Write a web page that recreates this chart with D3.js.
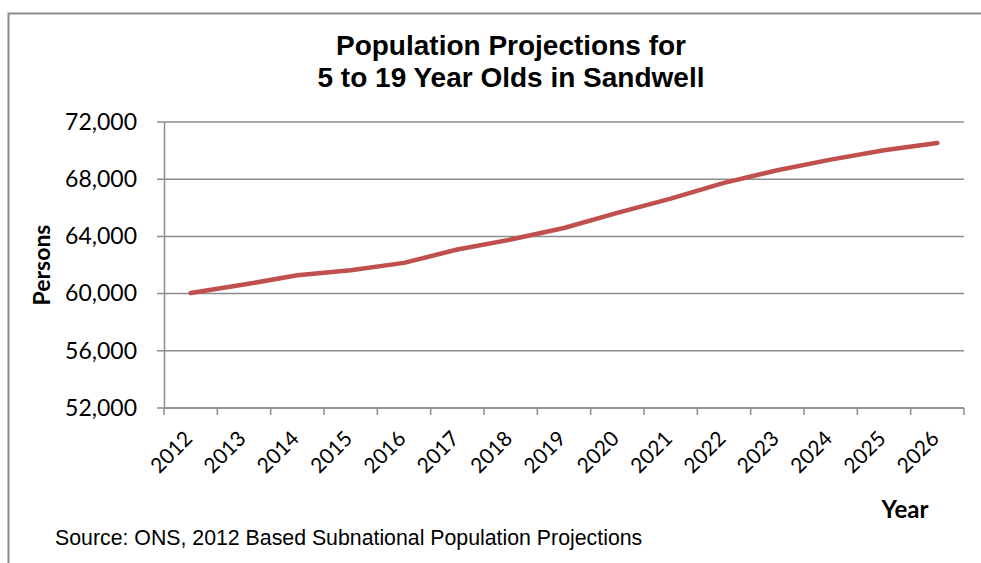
<!DOCTYPE html>
<html>
<head>
<meta charset="UTF-8">
<script src="https://d3js.org/d3.v7.min.js"></script>
<style>
  body { margin: 0; background: #fff; }
  svg { display: block; }
</style>
</head>
<body>
<svg></svg>
<script>
const width = 981;
const height = 563;
const margin = {top: 122, right: 17, bottom: 155, left: 164};

const years = ["2012","2013","2014","2015","2016","2017","2018","2019","2020","2021","2022","2023","2024","2025","2026"];
const persons = [60040, 60630, 61280, 61630, 62150, 63080, 63780, 64590, 65640, 66640, 67740, 68630, 69370, 70020, 70530];
const yTicks = [52000, 56000, 60000, 64000, 68000, 72000];
const titleLines = ["Population Projections for", "5 to 19 Year Olds in Sandwell"];

const data = years.map((y, i) => ({year: y, value: persons[i]}));

const svg = d3.select("svg")
    .attr("width", width)
    .attr("height", height)
    .attr("viewBox", [0, 0, width, height]);

// chart frame (only top/left edges visible)
svg.append("path")
    .attr("d", `M8.5,${height}V13.5H${width}`)
    .attr("fill", "none")
    .attr("stroke", "#8c8c8c")
    .attr("stroke-width", 2);

const x = d3.scaleBand()
    .domain(years)
    .range([margin.left, width - margin.right]);

const y = d3.scaleLinear()
    .domain([52000, 72000])
    .range([height - margin.bottom, margin.top]);

// gridlines
svg.append("g")
    .attr("stroke", "#8c8c8c")
    .attr("stroke-width", 1.5)
  .selectAll("line")
  .data(yTicks)
  .join("line")
    .attr("x1", margin.left - 7)
    .attr("x2", width - margin.right)
    .attr("y1", d => y(d))
    .attr("y2", d => y(d));

// y axis
svg.append("g")
    .attr("transform", `translate(${margin.left},0)`)
    .call(d3.axisLeft(y).tickValues(yTicks).tickFormat(d3.format(",")).tickSize(0).tickPadding(27))
    .call(g => g.select(".domain").attr("stroke", "#8c8c8c").attr("stroke-width", 1.5))
    .call(g => g.selectAll("text")
        .attr("font-family", "Lato, 'Open Sans', sans-serif")
        .attr("font-size", 23)
        .attr("fill", "#000"));

// x axis
svg.append("g")
    .attr("transform", `translate(0,${height - margin.bottom})`)
    .call(d3.axisBottom(x).tickSize(0))
    .call(g => g.select(".domain").remove())
    .call(g => g.selectAll("text")
        .attr("font-family", "Lato, 'Open Sans', sans-serif")
        .attr("font-size", 21)
        .attr("fill", "#000")
        .attr("text-anchor", "end")
        .attr("x", 0)
        .attr("y", 0)
        .attr("dy", 0)
        .attr("transform", "translate(3,32) rotate(-45)"));

// x axis base line and tick marks at band boundaries
const xb = svg.append("g")
    .attr("stroke", "#8c8c8c")
    .attr("stroke-width", 1.5);
xb.append("line")
    .attr("x1", margin.left)
    .attr("x2", width - margin.right)
    .attr("y1", y(52000))
    .attr("y2", y(52000));
xb.selectAll(".tk")
  .data(years.concat(["end"]))
  .join("line")
    .attr("class", "tk")
    .attr("x1", (d, i) => margin.left + i * x.step())
    .attr("x2", (d, i) => margin.left + i * x.step())
    .attr("y1", y(52000))
    .attr("y2", y(52000) + 7);

// line
const line = d3.line()
    .x(d => x(d.year) + x.bandwidth() / 2)
    .y(d => y(d.value));

svg.append("path")
    .datum(data)
    .attr("fill", "none")
    .attr("stroke", "#c0504d")
    .attr("stroke-width", 4.5)
    .attr("stroke-linecap", "round")
    .attr("stroke-linejoin", "round")
    .attr("d", line);

// title
svg.append("text")
    .attr("x", 511)
    .attr("y", 55)
    .attr("text-anchor", "middle")
    .attr("font-family", "'Liberation Sans', Arial, sans-serif")
    .attr("font-weight", "bold")
    .attr("font-size", 28)
  .selectAll("tspan")
  .data(titleLines)
  .join("tspan")
    .attr("x", 511)
    .attr("dy", (d, i) => i === 0 ? 0 : 32)
    .text(d => d);

// axis titles
svg.append("text")
    .attr("transform", "translate(50,265) rotate(-90)")
    .attr("text-anchor", "middle")
    .attr("font-family", "Lato, 'Open Sans', sans-serif")
    .attr("font-weight", "bold")
    .attr("font-size", 23)
    .text("Persons");

svg.append("text")
    .attr("x", 905)
    .attr("y", 518)
    .attr("text-anchor", "middle")
    .attr("font-family", "Lato, 'Open Sans', sans-serif")
    .attr("font-weight", "bold")
    .attr("font-size", 24)
    .text("Year");

svg.append("text")
    .attr("x", 55)
    .attr("y", 545)
    .attr("font-family", "'Liberation Sans', Arial, sans-serif")
    .attr("font-size", 21.3)
    .text("Source: ONS, 2012 Based Subnational Population Projections");
</script>
</body>
</html>
